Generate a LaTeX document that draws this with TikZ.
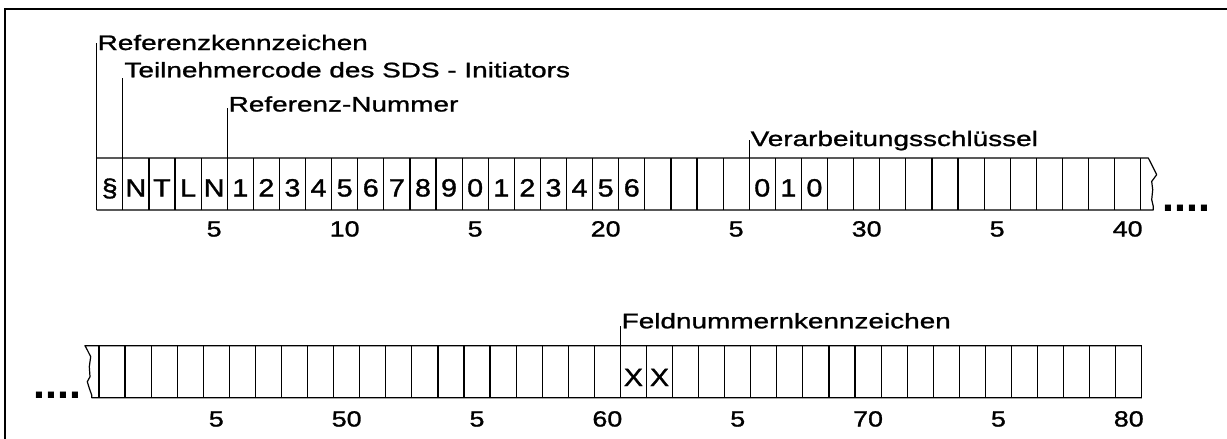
\documentclass[tikz,border=0pt]{standalone}
\usepackage{fontspec}
\setmainfont{Liberation Sans}
\newfontfamily\lblfont[FakeStretch=1.33,FakeBold=1.2]{Liberation Sans}
\newfontfamily\cellfont[FakeStretch=1.15,FakeBold=1.2]{Liberation Sans}
\newfontfamily\numfont[FakeStretch=1.22,FakeBold=1.2]{Liberation Sans}
\newfontfamily\dotfont{Liberation Sans}
\begin{document}
\begin{tikzpicture}[x=1pt,y=-1pt,
  cellbox/.style={minimum height=52pt, inner sep=0pt, outer sep=0pt},
  celltxt/.style={anchor=base, inner sep=0pt, font=\cellfont\fontsize{25}{25}\selectfont},
  numtxt/.style={anchor=base, inner sep=0pt, font=\numfont\fontsize{22}{22}\selectfont},
  lbl/.style={anchor=base west, inner sep=0pt, font=\lblfont\fontsize{21}{21}\selectfont},
  conn/.style={line width=1.2pt},
  grid/.style={line width=1.2pt},
  edge/.style={line width=1.2pt, line join=round},
  dots/.style={anchor=base west, inner sep=0pt, font=\dotfont\bfseries\fontsize{43}{43}\selectfont}]
\useasboundingbox (0,0) rectangle (1227,439);
% partial frame
\draw[line width=2.5pt] (5,439) -- (5,9) -- (1227,9);

% ---- row 1: cells 1..40
\foreach \i in {1,...,40} {
  \node[cellbox, minimum width=26.1pt] (c\i) at ({96.7+(\i-0.5)*26.1},184) {};
}
\draw[grid] (c1.north west) -- (c1.south west);
\foreach \i in {1,...,40} {
  \draw[grid] (c\i.north east) -- (c\i.south east);
}
\foreach \i/\t in {1/§,2/N,3/T,4/L,5/N,6/1,7/2,8/3,9/4,10/5,11/6,12/7,13/8,14/9,15/0,16/1,17/2,18/3,19/4,20/5,21/6,26/0,27/1,28/0} {
  \node[celltxt] (t\i) at ([yshift=-12.5pt]c\i.center) {\t};
}
\foreach \i/\t in {5/5,10/10,15/5,20/20,25/5,30/30,35/5,40/40} {
  \node[numtxt] (n\i) at ([yshift=-52.5pt]c\i.center) {\t};
}
% ragged right end of row 1
\path (c40.north east) ++(7.6,0) coordinate (r1a)
      (c40.north east) ++(11,6.7) coordinate (r1b)
      (c40.north east) ++(16,16.7) coordinate (r1c)
      (c40.north east) ++(11,23.4) coordinate (r1d)
      (c40.north east) ++(12,31.7) coordinate (r1e)
      (c40.north east) ++(11,41.7) coordinate (r1f)
      (c40.north east) ++(12.6,48.4) coordinate (r1g)
      (c40.south east) ++(12.6,0) coordinate (r1h);
\draw[edge] (c1.north west) -- (r1a) -- (r1b) -- (r1c) -- (r1d) -- (r1e) -- (r1f) -- (r1g) -- (r1h) -- (c1.south west);
\node[dots] (dot1) at (1162,211.7) {....};

% labels of row 1
\path (c1.north west) ++(0,-114.7) coordinate (l1top);
\path (c2.north west) ++(0,-79.7) coordinate (l2top);
\path (c6.north west) ++(0,-49.7) coordinate (l3top);
\path (c26.north west) ++(0,-18) coordinate (l4top);
\draw[conn] (c1.north west) -- (l1top);
\draw[conn] (c2.north west) -- (l2top);
\draw[conn] (c6.north west) -- (l3top);
\draw[conn] (c26.north west) -- (l4top);
\node[lbl] (lab1) at (97.5,50) {Referenzkennzeichen};
\node[lbl] (lab2) at (124.3,77.3) {Teilnehmercode des SDS - Initiators};
\node[lbl] (lab3) at (228.5,111.5) {Referenz-Nummer};
\node[lbl] (lab4) at (750.5,146) {Verarbeitungsschlüssel};

% ---- row 2: cells 41..80
\foreach \i in {41,...,80} {
  \node[cellbox, minimum width=26.07pt] (d\i) at ({99+(\i-40-0.5)*26.07},371.7) {};
}
\foreach \i in {41,...,80} {
  \draw[grid] (d\i.north west) -- (d\i.south west);
}
\draw[grid] (d80.north east) -- (d80.south east);
\foreach \i/\t in {61/X,62/X} {
  \node[celltxt] (u\i) at ([yshift=-14.3pt]d\i.center) {\t};
}
\foreach \i/\t in {45/5,50/50,55/5,60/60,65/5,70/70,75/5,80/80} {
  \node[numtxt] (m\i) at ([yshift=-54.8pt]d\i.center) {\t};
}
% ragged left end of row 2
\path (d41.north west) ++(-14,0) coordinate (r2a)
      (d41.north west) ++(-11.7,4.3) coordinate (r2b)
      (d41.north west) ++(-8.3,11) coordinate (r2c)
      (d41.north west) ++(-9.7,21) coordinate (r2d)
      (d41.north west) ++(-9,31) coordinate (r2e)
      (d41.north west) ++(-11.7,36) coordinate (r2f)
      (d41.north west) ++(-9.7,42.6) coordinate (r2g)
      (d41.north west) ++(-7.3,49.3) coordinate (r2h)
      (d41.south west) ++(-7.3,0) coordinate (r2i);
\draw[edge] (d80.north east) -- (r2a) -- (r2b) -- (r2c) -- (r2d) -- (r2e) -- (r2f) -- (r2g) -- (r2h) -- (r2i) -- (d80.south east);
\node[dots] (dot2) at (33.7,398.5) {....};

% label of row 2
\path (d61.north west) ++(0,-19.7) coordinate (l5top);
\draw[conn] (d61.north west) -- (l5top);
\node[lbl] (lab5) at (621.5,328.3) {Feldnummernkennzeichen};
\end{tikzpicture}
\end{document}
